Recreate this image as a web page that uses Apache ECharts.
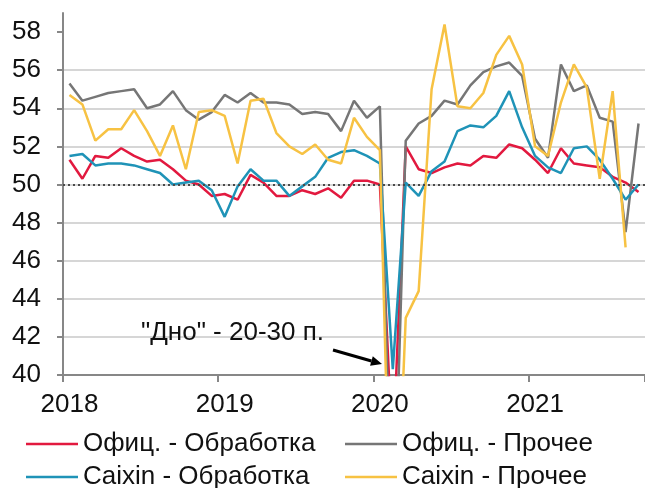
<!DOCTYPE html>
<html>
<head>
<meta charset="utf-8">
<script src="https://cdn.jsdelivr.net/npm/echarts@6/dist/echarts.min.js"></script>
<style>
  html, body { margin: 0; padding: 0; background: #fff; }
  #chart { width: 645px; height: 488px; }
</style>
</head>
<body>
<div id="chart"></div>
<script>
// Monthly PMI, Jan 2018 .. Sep 2021
const months = [
  '2018-01','2018-02','2018-03','2018-04','2018-05','2018-06','2018-07','2018-08','2018-09','2018-10','2018-11','2018-12',
  '2019-01','2019-02','2019-03','2019-04','2019-05','2019-06','2019-07','2019-08','2019-09','2019-10','2019-11','2019-12',
  '2020-01','2020-02','2020-03','2020-04','2020-05','2020-06','2020-07','2020-08','2020-09','2020-10','2020-11','2020-12',
  '2021-01','2021-02','2021-03','2021-04','2021-05','2021-06','2021-07','2021-08','2021-09'
];
const offMfg = [
  51.3, 50.3, 51.5, 51.4, 51.9, 51.5, 51.2, 51.3, 50.8, 50.2, 50.0, 49.4,
  49.5, 49.2, 50.5, 50.1, 49.4, 49.4, 49.7, 49.5, 49.8, 49.3, 50.2, 50.2,
  50.0, 35.7, 52.0, 50.8, 50.6, 50.9, 51.1, 51.0, 51.5, 51.4, 52.1, 51.9,
  51.3, 50.6, 51.9, 51.1, 51.0, 50.9, 50.4, 50.1, 49.6
];
const offOther = [
  55.3, 54.4, 54.6, 54.8, 54.9, 55.0, 54.0, 54.2, 54.9, 53.9, 53.4, 53.8,
  54.7, 54.3, 54.8, 54.3, 54.3, 54.2, 53.7, 53.8, 53.7, 52.8, 54.4, 53.5,
  54.1, 29.6, 52.3, 53.2, 53.6, 54.4, 54.2, 55.2, 55.9, 56.2, 56.4, 55.7,
  52.4, 51.4, 56.3, 54.9, 55.2, 53.5, 53.3, 47.5, 53.2
];
const caixinMfg = [
  51.5, 51.6, 51.0, 51.1, 51.1, 51.0, 50.8, 50.6, 50.0, 50.1, 50.2, 49.7,
  48.3, 49.9, 50.8, 50.2, 50.2, 49.4, 49.9, 50.4, 51.4, 51.7, 51.8, 51.5,
  51.1, 40.3, 50.1, 49.4, 50.7, 51.2, 52.8, 53.1, 53.0, 53.6, 54.9, 53.0,
  51.5, 50.9, 50.6, 51.9, 52.0, 51.3, 50.3, 49.2, 50.0
];
const caixinOther = [
  54.7, 54.2, 52.3, 52.9, 52.9, 53.9, 52.8, 51.5, 53.1, 50.8, 53.8, 53.9,
  53.6, 51.1, 54.4, 54.5, 52.7, 52.0, 51.6, 52.1, 51.3, 51.1, 53.5, 52.5,
  51.8, 26.5, 43.0, 44.4, 55.0, 58.4, 54.1, 54.0, 54.8, 56.8, 57.8, 56.3,
  52.0, 51.5, 54.3, 56.3, 55.1, 50.3, 54.9, 46.7, null
];
const yTicks = [40, 42, 44, 46, 48, 50, 52, 54, 56, 58];
const refLevel = 50;

const NAMES = ['Офиц. - Обработка', 'Офиц. - Прочее', 'Caixin - Обработка', 'Caixin - Прочее'];
const COLORS = ['#e2193f', '#767676', '#1f93b7', '#f7c243'];
const FONT = '"Liberation Sans", Arial, sans-serif';
const FS = 26;
const AXIS = '#878787';
const TEXT = '#111';

function series(name, data, color, extra) {
  return Object.assign({
    name, type: 'line', data, symbol: 'none', clip: true, connectNulls: false,
    lineStyle: { color, width: 2.5 }, itemStyle: { color },
  }, extra || {});
}

// one legend per item so the 2x2 grid is placed exactly
function legendItem(name, left, top) {
  return {
    data: [name], left, top, icon: 'rect', itemWidth: 52, itemHeight: 2.5,
    textStyle: { fontSize: FS, lineHeight: FS, color: TEXT, fontFamily: FONT },
  };
}

// annotation arrow (pixel space)
const tail = [333, 350], tip = [382, 364];
const dx = tip[0] - tail[0], dy = tip[1] - tail[1], len = Math.hypot(dx, dy);
const ux = dx / len, uy = dy / len;
const headL = 11, headW = 5;
const base = [tip[0] - ux * headL, tip[1] - uy * headL];

const chart = echarts.init(document.getElementById('chart'), null, { renderer: 'canvas' });
chart.setOption({
  backgroundColor: '#fff',
  animation: false,
  textStyle: { fontFamily: FONT },
  grid: { left: 63, top: 13, width: 586, height: 362 },
  legend: [
    legendItem(NAMES[0], 21, 426),
    legendItem(NAMES[1], 340, 426),
    legendItem(NAMES[2], 21, 459),
    legendItem(NAMES[3], 340, 459),
  ],
  xAxis: {
    type: 'category', data: months, boundaryGap: true,
    axisLine: { lineStyle: { color: AXIS, width: 2 } },
    axisTick: { show: true, length: 7, alignWithLabel: false,
                interval: (i) => i % 12 === 0, lineStyle: { color: AXIS, width: 2 } },
    axisLabel: { interval: (i) => i % 12 === 0, formatter: (v) => v.slice(0, 4),
                 margin: 17, fontSize: FS, color: TEXT, fontFamily: FONT },
    splitLine: { show: false },
  },
  yAxis: {
    type: 'value', min: 40, max: 59, interval: 2,
    axisLine: { show: true, lineStyle: { color: AXIS, width: 2 } },
    axisTick: { show: true, length: 6, customValues: yTicks, lineStyle: { color: AXIS, width: 2 } },
    axisLabel: { showMaxLabel: false, margin: 22, fontSize: FS, color: TEXT, fontFamily: FONT,
                 formatter: (v) => yTicks.includes(v) ? String(v) : '' },
    splitLine: { show: true, showMaxLine: false, lineStyle: { color: '#d6d6d6', width: 2 } },
  },
  series: [
    series(NAMES[0], offMfg, COLORS[0], {
      markLine: {
        silent: true, symbol: 'none', label: { show: false },
        lineStyle: { color: '#4a4a4a', type: [2, 3], width: 2 },
        data: [{ yAxis: refLevel }],
      },
    }),
    series(NAMES[1], offOther, COLORS[1]),
    series(NAMES[2], caixinMfg, COLORS[2]),
    series(NAMES[3], caixinOther, COLORS[3]),
  ],
  graphic: [
    { type: 'text', left: 141, top: 320, z: 100,
      style: { text: '"Дно" - 20-30 п.', font: FS + 'px ' + FONT, fill: TEXT } },
    { type: 'line', z: 100,
      shape: { x1: tail[0], y1: tail[1], x2: base[0], y2: base[1] },
      style: { stroke: '#000', lineWidth: 3 } },
    { type: 'polygon', z: 100,
      shape: { points: [tip,
        [base[0] - uy * headW, base[1] + ux * headW],
        [base[0] + uy * headW, base[1] - ux * headW]] },
      style: { fill: '#000' } },
  ],
});
</script>
</body>
</html>
